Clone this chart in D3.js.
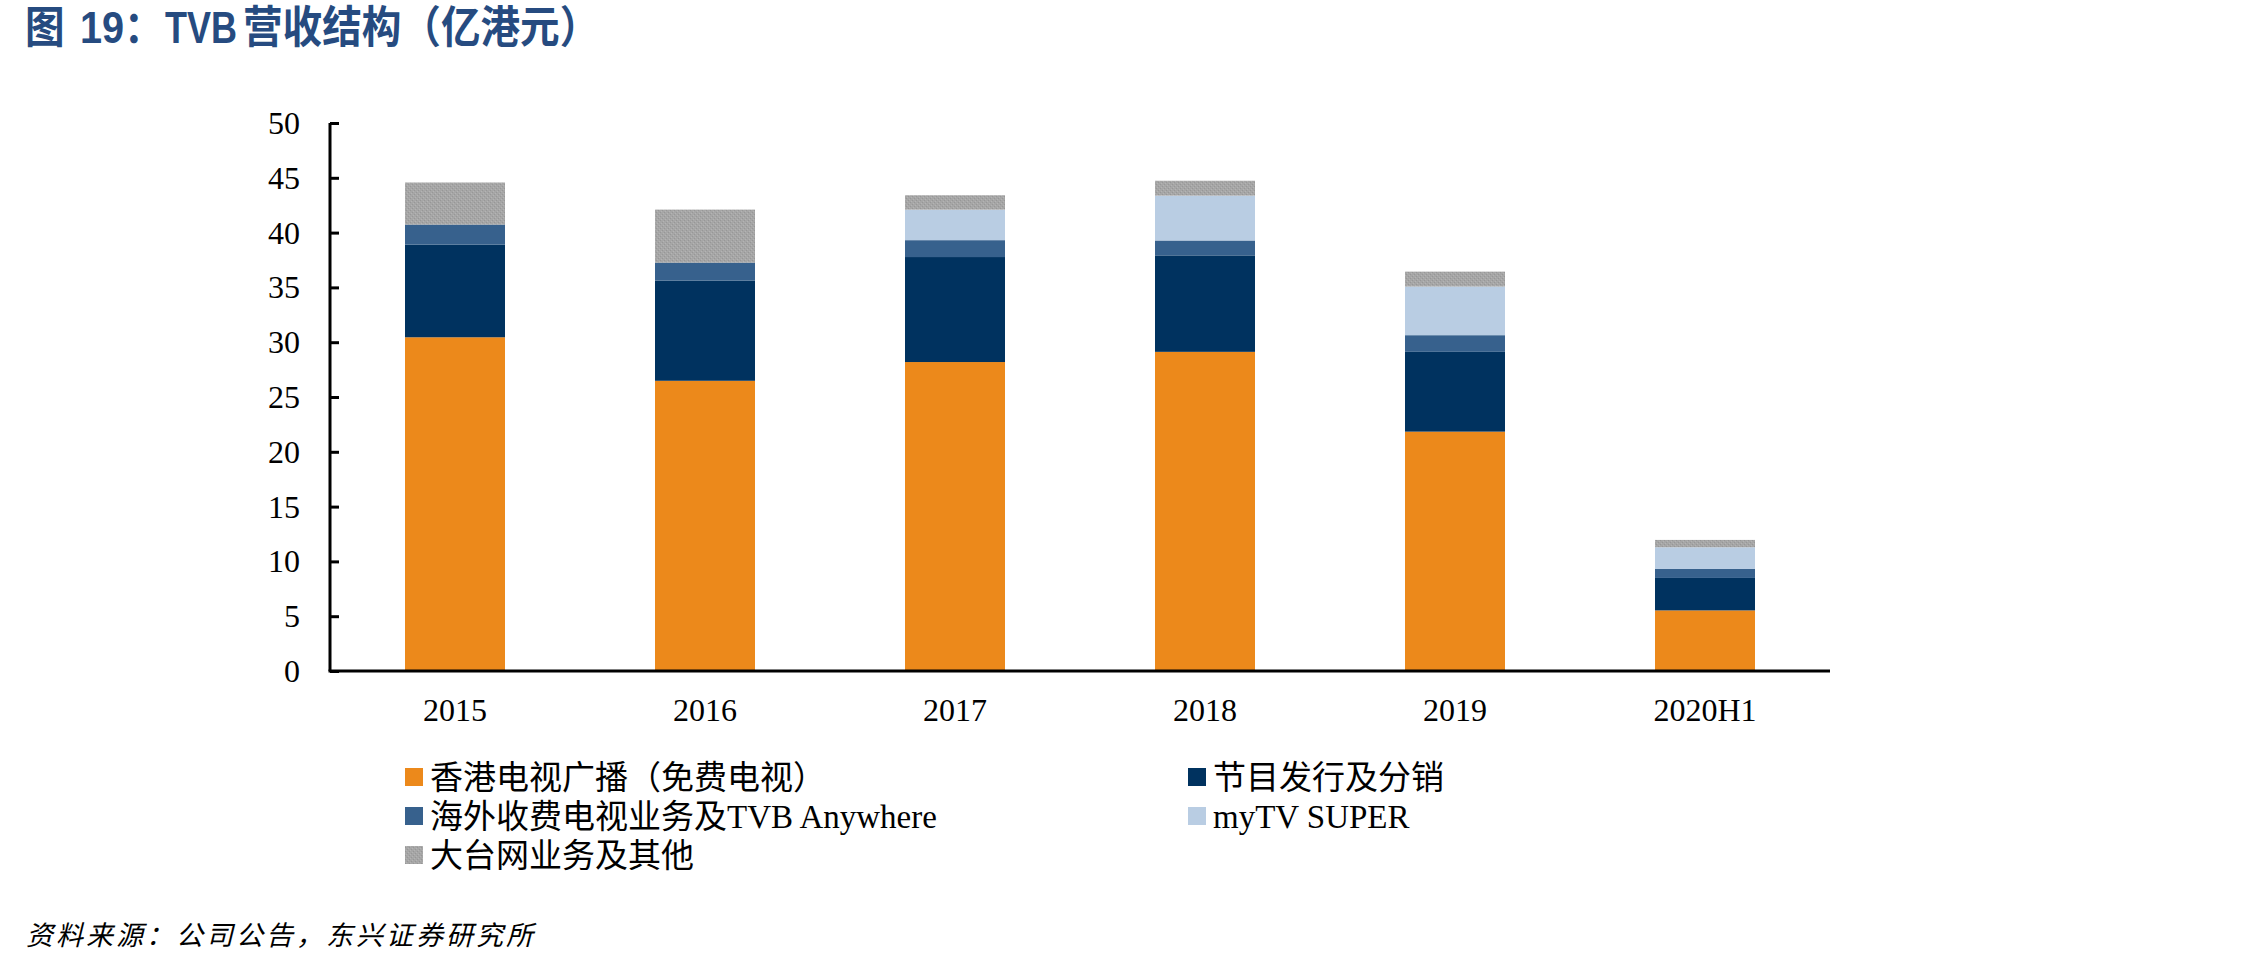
<!DOCTYPE html>
<html>
<head>
<meta charset="utf-8">
<script src="https://cdn.jsdelivr.net/npm/d3@7"></script>
<style>
html,body{margin:0;padding:0;background:#fff;}
svg{display:block;}
</style>
</head>
<body>
<svg id="chart" width="2268" height="965"></svg>
<script>
const categories = ["2015","2016","2017","2018","2019","2020H1"];
const seriesNames = ["香港电视广播（免费电视）","节目发行及分销","海外收费电视业务及TVB Anywhere","myTV SUPER","大台网业务及其他"];
const hkTV      = [30.45, 26.48, 28.19, 29.12, 21.84, 5.53];
const distrib   = [8.45, 9.14, 9.58, 8.80, 7.28, 2.96];
const overseas  = [1.83, 1.64, 1.54, 1.36, 1.52, 0.82];
const mytv      = [0, 0, 2.78, 4.09, 4.44, 1.98];
const bigbig    = [3.84, 4.84, 1.32, 1.36, 1.36, 0.67];
const yTicks = [0,5,10,15,20,25,30,35,40,45,50];
const colors = ["#EC891B","#00325F","#37618D","#B9CDE3","url(#grayTex)"];

const svg = d3.select("#chart");
const defs = svg.append("defs");
const pat = defs.append("pattern").attr("id","grayTex").attr("patternUnits","userSpaceOnUse")
  .attr("width",4).attr("height",4);
pat.append("rect").attr("width",4).attr("height",4).attr("fill","#a6a6a6");
pat.append("rect").attr("x",0).attr("y",0).attr("width",1).attr("height",1).attr("fill","#979797");
pat.append("rect").attr("x",2).attr("y",2).attr("width",1).attr("height",1).attr("fill","#979797");
pat.append("rect").attr("x",1).attr("y",3).attr("width",1).attr("height",1).attr("fill","#b4b4b4");
pat.append("rect").attr("x",3).attr("y",1).attr("width",1).attr("height",1).attr("fill","#b4b4b4");

const pLeft = 330, pRight = 1830, pTop = 123, pBottom = 671;
const x = d3.scaleBand().domain(categories).range([pLeft,pRight]).paddingInner(0.6).paddingOuter(0.3);
const y = d3.scaleLinear().domain([0,50]).range([pBottom,pTop]);

// Title
const sx = 0.9;
const title = svg.append("text")
  .attr("transform",`translate(0,43) scale(${sx},1)`)
  .attr("font-family","'Liberation Sans','Noto Sans CJK SC',sans-serif")
  .attr("font-weight","bold").attr("font-size",44).attr("fill","#264B80");
title.append("tspan").attr("x",25/sx).text("图");
title.append("tspan").attr("x",80/sx).text("19：");
title.append("tspan").attr("x",165/sx).attr("textLength",72/sx).attr("lengthAdjust","spacingAndGlyphs").text("TVB");
title.append("tspan").attr("x",243/sx).text("营收结构（亿港元）");

// stacked data
const table = categories.map((c,i)=>({cat:c, s0:hkTV[i], s1:distrib[i], s2:overseas[i], s3:mytv[i], s4:bigbig[i]}));
const keys = ["s0","s1","s2","s3","s4"];
const stacked = d3.stack().keys(keys)(table);

svg.append("g").selectAll("g").data(stacked).join("g")
  .attr("fill",(d,i)=>colors[i])
  .selectAll("rect").data(d=>d).join("rect")
  .attr("x",d=>x(d.data.cat))
  .attr("width",x.bandwidth())
  .attr("y",d=>y(d[1]))
  .attr("height",d=>Math.max(0,y(d[0])-y(d[1])));

// Y axis
const yAxis = d3.axisRight(y).tickValues(yTicks).tickSize(9).tickFormat("");
const gy = svg.append("g").attr("transform",`translate(${pLeft},0)`).call(yAxis);
gy.select(".domain").attr("stroke","#000").attr("stroke-width",3).attr("d",`M0,${pTop}V${pBottom}`);
gy.selectAll(".tick line").attr("stroke","#000").attr("stroke-width",3);
svg.append("g").selectAll("text").data(yTicks).join("text")
  .attr("x",300).attr("y",d=>y(d)+11)
  .attr("text-anchor","end")
  .attr("font-family","'Liberation Serif','Times New Roman',serif")
  .attr("font-size",32).attr("fill","#000")
  .text(d=>d);

// X axis
const xAxis = d3.axisBottom(x).tickSize(0).tickPadding(0);
const gx = svg.append("g").attr("transform",`translate(0,${pBottom})`).call(xAxis);
gx.select(".domain").attr("stroke","#000").attr("stroke-width",3).attr("d",`M${pLeft-1.5},0H${pRight}`);
gx.selectAll(".tick text").attr("dy",0).attr("y",50)
  .attr("font-family","'Liberation Serif','Times New Roman',serif")
  .attr("font-size",32).attr("fill","#000");

// Legend
const legendPos = [[405,777],[1188,777],[405,816],[1188,816],[405,855]];
const lg = svg.append("g").selectAll("g").data(seriesNames).join("g")
  .attr("transform",(d,i)=>`translate(${legendPos[i][0]},${legendPos[i][1]})`);
lg.append("rect").attr("x",0).attr("y",-9).attr("width",18).attr("height",18)
  .attr("fill",(d,i)=>colors[i]);
lg.append("text").attr("x",25).attr("y",12)
  .attr("font-family","'Liberation Serif','Noto Sans CJK SC',serif")
  .attr("font-size",33).attr("fill","#000")
  .text(d=>d);

// Footer
svg.append("text").attr("x",26).attr("y",945)
  .attr("font-family","'Noto Sans CJK SC',sans-serif")
  .attr("font-style","italic").attr("font-size",27).attr("fill","#000")
  .attr("letter-spacing",3)
  .text("资料来源：公司公告，东兴证券研究所");
</script>
</body>
</html>
